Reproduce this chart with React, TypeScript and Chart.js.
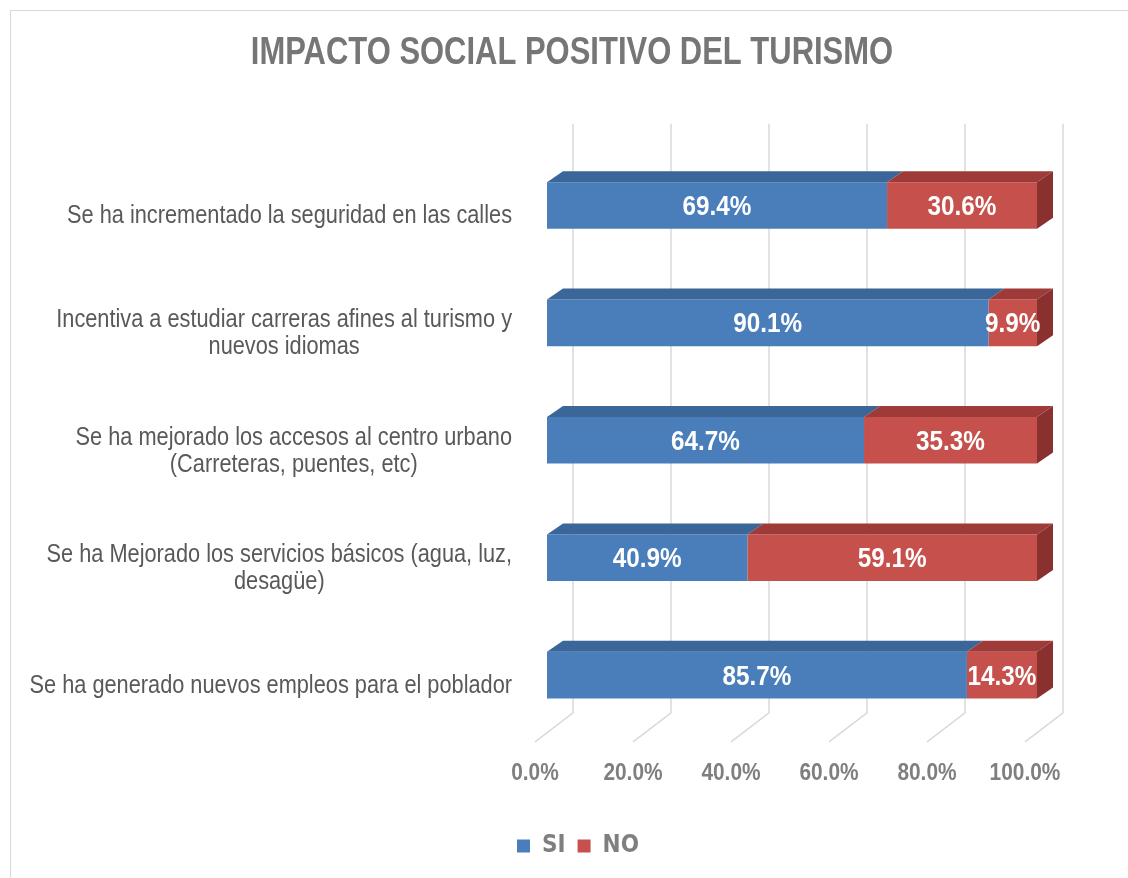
import React, { useEffect, useRef } from "react";
import { Chart, registerables } from "chart.js";

Chart.register(...registerables);

const TITLE = "IMPACTO SOCIAL POSITIVO DEL TURISMO";
const categories: string[][] = [
  ["Se ha incrementado la seguridad en las calles"],
  ["Incentiva a estudiar carreras afines al turismo y", "nuevos idiomas"],
  ["Se ha mejorado los accesos al centro urbano", "(Carreteras, puentes, etc)"],
  ["Se ha Mejorado los servicios básicos (agua, luz,", "desagüe)"],
  ["Se ha generado nuevos empleos para el poblador"],
];
const siValues = [69.4, 90.1, 64.7, 40.9, 85.7];
const noValues = [30.6, 9.9, 35.3, 59.1, 14.3];
const seriesNames = ["SI", "NO"];
const xTicks = [0, 20, 40, 60, 80, 100];

const NARROW = "'Liberation Sans', Arial, sans-serif";
const COND = "'DejaVu Sans Condensed', 'DejaVu Sans', sans-serif";
const FRONT = ["#4A7EBB", "#C5504C"];
const TOP = ["#3A6699", "#9E3B38"];
const SIDE = "#8A302E";
const DX = 16;
const DY = -11;

function narrowText(ctx: CanvasRenderingContext2D, text: string, x: number, y: number, align: CanvasTextAlign, sx: number) {
  ctx.save();
  ctx.translate(x, y);
  ctx.scale(sx, 1);
  ctx.textAlign = align;
  ctx.fillText(text, 0, 0);
  ctx.restore();
}

const gridPlugin = {
  id: "grid3d",
  beforeDatasetsDraw(chart: any) {
    const { ctx, chartArea, scales } = chart;
    const xs = scales.x;
    ctx.save();
    ctx.strokeStyle = "#d9d9d9";
    ctx.lineWidth = 1.5;
    xs.ticks.forEach((t: any) => {
      const p = xs.getPixelForValue(t.value);
      ctx.beginPath();
      ctx.moveTo(p + 26, chartArea.top - 23);
      ctx.lineTo(p + 26, chartArea.bottom - 21);
      ctx.lineTo(p - 12, chartArea.bottom + 8);
      ctx.stroke();
    });
    ctx.restore();
  },
  afterDatasetsDraw(chart: any) {
    const { ctx } = chart;
    const n = chart.data.datasets.length;
    ctx.save();
    for (let d = 0; d < n; d++) {
      const meta = chart.getDatasetMeta(d);
      meta.data.forEach((bar: any) => {
        const { x, y, base, height } = bar.getProps(["x", "y", "base", "height"], true);
        const left = Math.min(x, base);
        const right = Math.max(x, base);
        const top = y - height / 2;
        const bottom = y + height / 2;
        ctx.fillStyle = TOP[d];
        ctx.beginPath();
        ctx.moveTo(left, top);
        ctx.lineTo(right, top);
        ctx.lineTo(right + DX, top + DY);
        ctx.lineTo(left + DX, top + DY);
        ctx.closePath();
        ctx.fill();
        if (d === n - 1) {
          ctx.fillStyle = SIDE;
          ctx.beginPath();
          ctx.moveTo(right, top);
          ctx.lineTo(right + DX, top + DY);
          ctx.lineTo(right + DX, bottom + DY);
          ctx.lineTo(right, bottom);
          ctx.closePath();
          ctx.fill();
        }
      });
    }
    // value labels
    ctx.fillStyle = "#ffffff";
    ctx.font = `bold 27px ${NARROW}`;
    ctx.textBaseline = "middle";
    for (let d = 0; d < n; d++) {
      const meta = chart.getDatasetMeta(d);
      const vals = chart.data.datasets[d].data as number[];
      meta.data.forEach((bar: any, i: number) => {
        const { x, y, base } = bar.getProps(["x", "y", "base"], true);
        narrowText(ctx, vals[i].toFixed(1) + "%", (x + base) / 2, y + 2, "center", 0.9);
      });
    }
    ctx.restore();
  },
  afterDraw(chart: any) {
    const { ctx, chartArea, scales } = chart;
    const xs = scales.x;
    const ys = scales.y;
    ctx.save();
    ctx.textBaseline = "middle";
    // title
    ctx.fillStyle = "#767676";
    ctx.font = `bold 39px ${NARROW}`;
    narrowText(ctx, TITLE, chart.width / 2 + 8, 53, "center", 0.794);
    // x tick labels
    ctx.fillStyle = "#7f7f7f";
    ctx.font = `bold 24px ${NARROW}`;
    xs.ticks.forEach((t: any) => {
      const p = xs.getPixelForValue(t.value);
      narrowText(ctx, Number(t.value).toFixed(1) + "%", p - 12, chartArea.bottom + 40, "center", 0.87);
    });
    // category labels (wrapped lines centred on each other)
    ctx.fillStyle = "#595959";
    ctx.font = `25px ${NARROW}`;
    const sx = 0.87;
    const lh = 27;
    const rightEdge = ys.right - 35;
    (chart.data.labels as string[][]).forEach((lines, i) => {
      const c = ys.getPixelForValue(i);
      const widths = lines.map((l) => ctx.measureText(l).width * sx);
      const maxW = Math.max(...widths);
      const cx = rightEdge - maxW / 2;
      const blockC = c + 11;
      lines.forEach((l, j) => {
        narrowText(ctx, l, cx, blockC + (j - (lines.length - 1) / 2) * lh, "center", sx);
      });
    });
    ctx.restore();
  },
};

export default function App() {
  const ref = useRef<HTMLCanvasElement | null>(null);
  useEffect(() => {
    if (!ref.current) return;
    const chart = new Chart(ref.current, {
      type: "bar",
      data: {
        labels: categories,
        datasets: [
          { label: seriesNames[0], data: siValues, backgroundColor: FRONT[0], borderWidth: 0, barPercentage: 0.397, categoryPercentage: 1 },
          { label: seriesNames[1], data: noValues, backgroundColor: FRONT[1], borderWidth: 0, barPercentage: 0.397, categoryPercentage: 1 },
        ],
      },
      options: {
        indexAxis: "y",
        responsive: false,
        animation: false,
        layout: { padding: { left: 28, right: 0, top: 146.8, bottom: 10 } },
        scales: {
          x: {
            stacked: true,
            min: 0,
            max: 100,
            afterBuildTicks: (s: any) => {
              s.ticks = xTicks.map((v) => ({ value: v }));
            },
            afterFit: (s: any) => {
              s.height = 88.2;
              s.paddingRight = 91;
              s.paddingLeft = 0;
            },
            grid: { display: false, drawTicks: false },
            border: { display: false },
            ticks: { display: false },
          },
          y: {
            stacked: true,
            afterFit: (s: any) => {
              s.width = 519;
            },
            grid: { display: false, drawTicks: false },
            border: { display: false },
            ticks: { display: false },
          },
        },
        plugins: {
          title: { display: false },
          legend: {
            position: "bottom",
            labels: {
              color: "#7f7f7f",
              font: { family: COND, size: 24, weight: "bold" },
              boxWidth: 13,
              boxHeight: 13,
              padding: 12,
            },
          },
          tooltip: { enabled: false },
        },
      },
      plugins: [gridPlugin],
    });
    return () => chart.destroy();
  }, []);
  return (
    <div style={{ position: "fixed", left: 0, top: 0, width: 1128, height: 878, overflow: "hidden", background: "#ffffff" }}>
      <div style={{ position: "absolute", left: 10, top: 10, width: 1140, height: 900, border: "1px solid #d9d9d9" }} />
      <canvas ref={ref} width={1128} height={878} style={{ position: "absolute", left: 0, top: 0 }} />
    </div>
  );
}
